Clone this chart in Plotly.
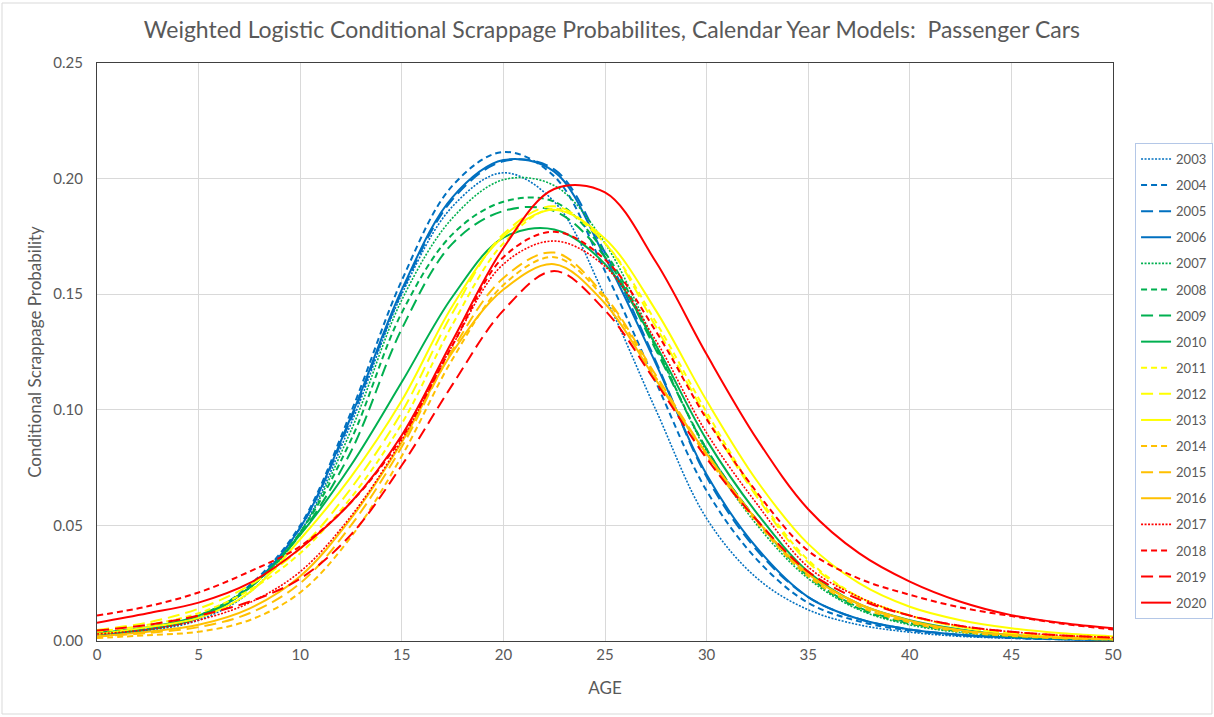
import plotly.graph_objects as go

ages = [0, 2.5, 5, 7.5, 10, 12.5, 15, 17.5, 20, 22.5, 25, 27.5, 30, 32.5, 35, 37.5, 40, 42.5, 45, 47.5, 50]

y2003 = [0.0025, 0.0045, 0.009, 0.021, 0.047, 0.094, 0.150, 0.188, 0.2025, 0.190, 0.149, 0.100, 0.053, 0.027, 0.0135, 0.007, 0.0038, 0.002, 0.0012, 0.0007, 0.0004]
y2004 = [0.003, 0.005, 0.010, 0.024, 0.050, 0.099, 0.156, 0.197, 0.2115, 0.201, 0.160, 0.112, 0.065, 0.035, 0.0165, 0.0085, 0.0045, 0.0024, 0.0013, 0.0007, 0.0004]
y2005 = [0.003, 0.005, 0.010, 0.023, 0.049, 0.096, 0.151, 0.191, 0.2075, 0.204, 0.168, 0.121, 0.071, 0.039, 0.019, 0.0095, 0.005, 0.0027, 0.0015, 0.0008, 0.0005]
y2006 = [0.003, 0.005, 0.010, 0.023, 0.049, 0.097, 0.152, 0.192, 0.208, 0.203, 0.166, 0.120, 0.072, 0.040, 0.019, 0.0095, 0.005, 0.0027, 0.0015, 0.0008, 0.0005]
y2007 = [0.003, 0.005, 0.010, 0.023, 0.047, 0.091, 0.1475, 0.183, 0.1995, 0.197, 0.172, 0.128, 0.082, 0.050, 0.027, 0.0135, 0.007, 0.0037, 0.002, 0.0011, 0.0006]
y2008 = [0.003, 0.005, 0.010, 0.023, 0.047, 0.087, 0.142, 0.176, 0.190, 0.190, 0.168, 0.127, 0.083, 0.052, 0.028, 0.014, 0.0075, 0.004, 0.002, 0.0011, 0.0006]
y2009 = [0.0035, 0.006, 0.011, 0.023, 0.046, 0.082, 0.135, 0.172, 0.186, 0.186, 0.166, 0.126, 0.083, 0.052, 0.028, 0.0145, 0.0078, 0.0042, 0.0022, 0.0012, 0.0007]
y2010 = [0.0035, 0.006, 0.011, 0.023, 0.046, 0.076, 0.112, 0.149, 0.1745, 0.178, 0.163, 0.128, 0.087, 0.055, 0.030, 0.016, 0.009, 0.005, 0.0026, 0.0014, 0.0008]
y2011 = [0.004, 0.007, 0.012, 0.022, 0.038, 0.062, 0.094, 0.137, 0.172, 0.187, 0.172, 0.138, 0.099, 0.063, 0.035, 0.019, 0.011, 0.006, 0.0033, 0.0018, 0.001]
y2012 = [0.0048, 0.008, 0.014, 0.024, 0.040, 0.066, 0.099, 0.142, 0.176, 0.188, 0.172, 0.136, 0.097, 0.062, 0.034, 0.019, 0.011, 0.006, 0.0033, 0.0018, 0.001]
y2013 = [0.003, 0.006, 0.010, 0.021, 0.044, 0.071, 0.104, 0.145, 0.175, 0.1865, 0.174, 0.143, 0.104, 0.069, 0.042, 0.025, 0.0148, 0.009, 0.0055, 0.0033, 0.002]
y2014 = [0.0013, 0.0025, 0.004, 0.009, 0.021, 0.045, 0.080, 0.122, 0.154, 0.166, 0.148, 0.114, 0.080, 0.051, 0.028, 0.015, 0.008, 0.004, 0.0022, 0.0012, 0.0006]
y2015 = [0.002, 0.0035, 0.006, 0.012, 0.025, 0.050, 0.084, 0.126, 0.157, 0.168, 0.149, 0.115, 0.081, 0.052, 0.029, 0.016, 0.0085, 0.0045, 0.0025, 0.0013, 0.0007]
y2016 = [0.002, 0.004, 0.007, 0.014, 0.028, 0.053, 0.086, 0.125, 0.152, 0.163, 0.146, 0.113, 0.081, 0.052, 0.029, 0.016, 0.0088, 0.0047, 0.0026, 0.0014, 0.0008]
y2017 = [0.003, 0.005, 0.009, 0.0165, 0.030, 0.054, 0.087, 0.128, 0.163, 0.173, 0.162, 0.130, 0.090, 0.059, 0.032, 0.019, 0.011, 0.0065, 0.004, 0.0024, 0.0015]
y2018 = [0.011, 0.015, 0.021, 0.030, 0.041, 0.060, 0.088, 0.128, 0.166, 0.177, 0.165, 0.134, 0.096, 0.064, 0.039, 0.027, 0.020, 0.0145, 0.0108, 0.0075, 0.005]
y2019 = [0.0045, 0.007, 0.011, 0.017, 0.027, 0.046, 0.076, 0.111, 0.143, 0.160, 0.143, 0.112, 0.079, 0.052, 0.030, 0.018, 0.011, 0.0065, 0.004, 0.0024, 0.0015]
y2020 = [0.0079, 0.012, 0.0166, 0.025, 0.040, 0.060, 0.089, 0.130, 0.170, 0.1955, 0.194, 0.164, 0.124, 0.087, 0.057, 0.038, 0.0257, 0.017, 0.0112, 0.0078, 0.0055]

years = ["2003", "2004", "2005", "2006", "2007", "2008", "2009", "2010", "2011",
         "2012", "2013", "2014", "2015", "2016", "2017", "2018", "2019", "2020"]
series = [y2003, y2004, y2005, y2006, y2007, y2008, y2009, y2010, y2011,
          y2012, y2013, y2014, y2015, y2016, y2017, y2018, y2019, y2020]

BLUE, GREEN, YELLOW, ORANGE, RED = "#0070C0", "#00B050", "#FFFF00", "#FFC000", "#FF0000"
DOT, SHORT, LONG, SOLID = "2px,1.5px", "6px,4px", "12px,6px", "solid"
styles = [
    (BLUE, DOT), (BLUE, SHORT), (BLUE, LONG), (BLUE, SOLID),
    (GREEN, DOT), (GREEN, SHORT), (GREEN, LONG), (GREEN, SOLID),
    (YELLOW, SHORT), (YELLOW, LONG), (YELLOW, SOLID),
    (ORANGE, SHORT), (ORANGE, LONG), (ORANGE, SOLID),
    (RED, DOT), (RED, SHORT), (RED, LONG), (RED, SOLID),
]

fig = go.Figure()
for name, ys, (col, dash) in zip(years, series, styles):
    fig.add_trace(go.Scatter(
        x=ages, y=ys, name=name, mode="lines", legendgroup=name,
        line=dict(color=col, dash=dash, width=1.6 if dash == DOT else 2,
                  shape="spline", smoothing=1.0),
    ))

FONT = "Lato, 'Open Sans', sans-serif"
GREY = "#595959"

fig.update_layout(
    width=1214, height=717,
    margin=dict(l=97, r=101, t=63, b=76, autoexpand=False),
    paper_bgcolor="white", plot_bgcolor="white",
    font=dict(family=FONT, color=GREY, size=15),
    title=dict(text="Weighted Logistic Conditional Scrappage Probabilites, Calendar Year Models:  Passenger Cars",
               x=0.504, xanchor="center", y=0.958, yanchor="middle",
               font=dict(family=FONT, size=23, color=GREY)),
    xaxis=dict(range=[0, 50], tickvals=[0, 5, 10, 15, 20, 25, 30, 35, 40, 45, 50],
               showgrid=True, gridcolor="#D9D9D9", gridwidth=1,
               showline=True, linecolor="#404040", linewidth=1, mirror=True,
               zeroline=False, ticks="", tickfont=dict(size=15, color=GREY),
               title=dict(text="AGE", font=dict(size=17, color=GREY), standoff=20)),
    yaxis=dict(range=[0, 0.25], tickvals=[0, 0.05, 0.10, 0.15, 0.20, 0.25], tickformat=".2f",
               showgrid=True, gridcolor="#D9D9D9", gridwidth=1,
               showline=True, linecolor="#404040", linewidth=1, mirror=True,
               zeroline=False, ticks="", ticklabelstandoff=10,
               tickfont=dict(size=15, color=GREY),
               title=dict(text="Conditional Scrappage Probability", font=dict(size=17, color=GREY), standoff=7)),
    legend=dict(x=1.0217, xanchor="left", y=0.8616, yanchor="top",
                bordercolor="#B4C7E7", borderwidth=1, bgcolor="white",
                font=dict(size=13, color=GREY), tracegroupgap=6.2, itemwidth=30),
    shapes=[dict(type="rect", xref="paper", yref="paper",
                 x0=-0.0935, x1=1.0974, y0=-0.1263, y1=1.1038,
                 line=dict(color="#D9D9D9", width=1), layer="below")],
)

fig.write_html("out.html")
